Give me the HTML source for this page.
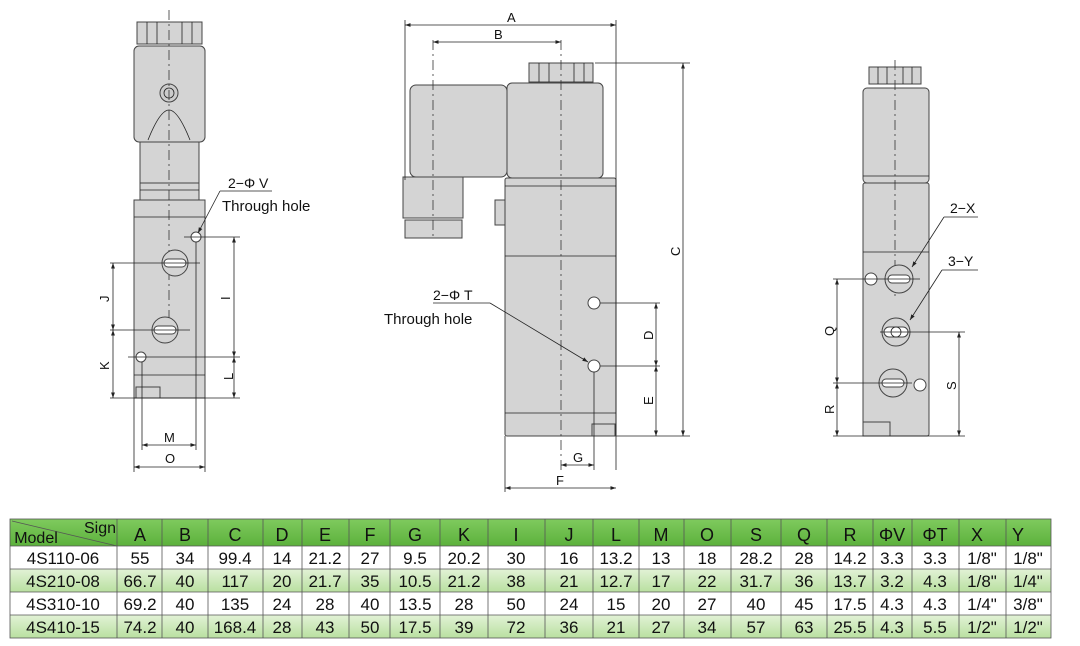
<!DOCTYPE html>
<html><head><meta charset="utf-8"><style>
html,body{margin:0;padding:0;background:#fff;width:1080px;height:646px;overflow:hidden}
svg{display:block}
text{font-family:"Liberation Sans",sans-serif;fill:#111}
.b{fill:#d4d4d4;stroke:#444;stroke-width:1}
.l{stroke:#222;stroke-width:0.8;fill:none}
.d{stroke:#333;stroke-width:0.8;stroke-dasharray:10 4 2 4;fill:none}
.h{fill:#fff;stroke:#444;stroke-width:1}
</style></head><body>
<svg width="1080" height="646" viewBox="0 0 1080 646">
<defs><marker id="a" viewBox="0 0 10 10" refX="10" refY="5" markerWidth="7" markerHeight="7" orient="auto-start-reverse"><path d="M0,1.5L10,5L0,8.5z" fill="#222"/></marker></defs>

<!-- LEFT VIEW -->
<rect class="b" x="137" y="22" width="65" height="22"/>
<g class="l"><line x1="147" y1="22" x2="147" y2="44"/><line x1="157" y1="22" x2="157" y2="44"/><line x1="182" y1="22" x2="182" y2="44"/><line x1="192" y1="22" x2="192" y2="44"/></g>
<rect class="b" x="134" y="46" width="71" height="96" rx="5"/>
<circle class="h" cx="169" cy="93" r="9" style="fill:#ccc"/><circle class="l" cx="169" cy="93" r="5"/>
<path class="l" d="M148,140 Q160,110 169,110 Q178,110 190,140"/>
<rect class="b" x="140" y="142" width="59" height="41"/>
<rect class="b" x="140" y="183" width="59" height="17"/>
<line class="l" x1="140" y1="190" x2="199" y2="190"/>
<rect class="b" x="134" y="200" width="71" height="198"/>
<line class="l" x1="134" y1="217" x2="205" y2="217"/>
<line class="l" x1="134" y1="375" x2="205" y2="375"/>
<rect class="b" x="136" y="387" width="24" height="11"/>
<line class="d" x1="169" y1="10" x2="169" y2="320"/>
<circle class="h" cx="196" cy="237" r="5"/>
<circle class="b" cx="175" cy="263" r="13"/><rect class="h" x="164" y="259" width="22" height="8" rx="4"/>
<circle class="b" cx="165" cy="330" r="13"/><rect class="h" x="154" y="326" width="22" height="8" rx="4"/>
<circle class="h" cx="141" cy="357" r="5"/>
<g class="l">
<line x1="184" y1="237" x2="240" y2="237"/><line x1="110" y1="263" x2="200" y2="263"/>
<line x1="110" y1="330" x2="190" y2="330"/><line x1="128" y1="357" x2="240" y2="357"/>
<line x1="110" y1="398" x2="240" y2="398"/>
<line x1="234" y1="237" x2="234" y2="357" marker-start="url(#a)" marker-end="url(#a)"/>
<line x1="234" y1="357" x2="234" y2="398" marker-start="url(#a)" marker-end="url(#a)"/>
<line x1="113" y1="263" x2="113" y2="330" marker-start="url(#a)" marker-end="url(#a)"/>
<line x1="113" y1="330" x2="113" y2="398" marker-start="url(#a)" marker-end="url(#a)"/>
<line x1="142" y1="362" x2="142" y2="450"/><line x1="196" y1="242" x2="196" y2="450"/>
<line x1="134" y1="398" x2="134" y2="472"/><line x1="205" y1="398" x2="205" y2="472"/>
<line x1="142" y1="445" x2="196" y2="445" marker-start="url(#a)" marker-end="url(#a)"/>
<line x1="134" y1="467" x2="205" y2="467" marker-start="url(#a)" marker-end="url(#a)"/>
<line x1="220" y1="191" x2="272" y2="191"/><line x1="220" y1="191" x2="198" y2="233" marker-end="url(#a)"/>
</g>
<text x="228" y="188" font-size="14">2−Φ V</text>
<text x="222" y="211" font-size="15">Through hole</text>
<text x="230" y="300" font-size="13" transform="rotate(-90 230 300)">I</text>
<text x="233" y="380" font-size="13" transform="rotate(-90 233 380)">L</text>
<text x="109" y="302" font-size="13" transform="rotate(-90 109 302)">J</text>
<text x="109" y="370" font-size="13" transform="rotate(-90 109 370)">K</text>
<text x="164" y="442" font-size="13">M</text>
<text x="165" y="463" font-size="13">O</text>

<!-- MIDDLE VIEW -->
<rect class="b" x="529" y="63" width="64" height="19"/>
<g class="l"><line x1="539" y1="63" x2="539" y2="82"/><line x1="549" y1="63" x2="549" y2="82"/><line x1="574" y1="63" x2="574" y2="82"/><line x1="584" y1="63" x2="584" y2="82"/></g>
<rect class="b" x="410" y="85" width="97" height="92" rx="6"/>
<rect class="b" x="507" y="83" width="96" height="95" rx="5"/>
<rect class="b" x="403" y="177" width="60" height="41"/>
<rect class="b" x="405" y="220" width="57" height="18"/>
<rect class="b" x="495" y="200" width="11" height="25"/>
<rect class="b" x="505" y="178" width="111" height="258" rx="2"/>
<line class="l" x1="505" y1="186" x2="616" y2="186"/>
<line class="l" x1="505" y1="256" x2="616" y2="256"/>
<line class="l" x1="505" y1="413" x2="616" y2="413"/>
<rect class="b" x="592" y="424" width="23" height="12"/>
<line class="d" x1="561" y1="40" x2="561" y2="470"/>
<line class="d" x1="433" y1="40" x2="433" y2="240"/>
<circle class="h" cx="594" cy="303" r="6"/><circle class="h" cx="594" cy="366" r="6"/>
<g class="l">
<line x1="405" y1="20" x2="405" y2="180"/><line x1="616" y1="20" x2="616" y2="470"/>
<line x1="405" y1="25" x2="616" y2="25" marker-start="url(#a)" marker-end="url(#a)"/>
<line x1="433" y1="42" x2="561" y2="42" marker-start="url(#a)" marker-end="url(#a)"/>
<line x1="595" y1="63" x2="690" y2="63"/><line x1="616" y1="436" x2="690" y2="436"/>
<line x1="683" y1="63" x2="683" y2="436" marker-start="url(#a)" marker-end="url(#a)"/>
<line x1="600" y1="303" x2="660" y2="303"/><line x1="600" y1="366" x2="660" y2="366"/>
<line x1="656" y1="303" x2="656" y2="366" marker-start="url(#a)" marker-end="url(#a)"/>
<line x1="656" y1="366" x2="656" y2="436" marker-start="url(#a)" marker-end="url(#a)"/>
<line x1="594" y1="372" x2="594" y2="470"/>
<line x1="505" y1="436" x2="505" y2="492"/>
<line x1="561" y1="465" x2="594" y2="465" marker-start="url(#a)" marker-end="url(#a)"/>
<line x1="505" y1="488" x2="616" y2="488" marker-start="url(#a)" marker-end="url(#a)"/>
<line x1="433" y1="303" x2="490" y2="303"/><line x1="490" y1="303" x2="588" y2="362" marker-end="url(#a)"/>
</g>
<text x="507" y="22" font-size="13">A</text>
<text x="494" y="39" font-size="13">B</text>
<text x="680" y="256" font-size="13" transform="rotate(-90 680 256)">C</text>
<text x="653" y="340" font-size="13" transform="rotate(-90 653 340)">D</text>
<text x="653" y="405" font-size="13" transform="rotate(-90 653 405)">E</text>
<text x="573" y="462" font-size="13">G</text>
<text x="556" y="485" font-size="13">F</text>
<text x="433" y="300" font-size="14">2−Φ T</text>
<text x="384" y="324" font-size="15">Through hole</text>

<!-- RIGHT VIEW -->
<rect class="b" x="869" y="67" width="52" height="17"/>
<g class="l"><line x1="878" y1="67" x2="878" y2="84"/><line x1="887" y1="67" x2="887" y2="84"/><line x1="903" y1="67" x2="903" y2="84"/><line x1="912" y1="67" x2="912" y2="84"/></g>
<rect class="b" x="863" y="88" width="66" height="95" rx="4"/>
<line class="l" x1="863" y1="176" x2="929" y2="176"/>
<rect class="b" x="863" y="183" width="66" height="253" rx="2"/>
<line class="l" x1="863" y1="252" x2="929" y2="252"/>
<rect class="b" x="863" y="422" width="27" height="14"/>
<line class="d" x1="895" y1="60" x2="895" y2="300"/>
<circle class="h" cx="871" cy="279" r="6"/>
<circle class="b" cx="899" cy="279" r="14"/><rect class="h" x="888" y="275" width="22" height="8" rx="4"/>
<circle class="b" cx="896" cy="332" r="14"/><rect class="h" x="884" y="327" width="24" height="10" rx="5"/><circle class="l" cx="896" cy="332" r="5"/>
<circle class="b" cx="893" cy="383" r="14"/><rect class="h" x="882" y="379" width="22" height="8" rx="4"/>
<circle class="h" cx="920" cy="385" r="6"/>
<g class="l">
<line x1="833" y1="279" x2="920" y2="279"/><line x1="833" y1="383" x2="912" y2="383"/>
<line x1="833" y1="436" x2="965" y2="436"/><line x1="880" y1="332" x2="965" y2="332"/>
<line x1="837" y1="279" x2="837" y2="383" marker-start="url(#a)" marker-end="url(#a)"/>
<line x1="837" y1="383" x2="837" y2="436" marker-start="url(#a)" marker-end="url(#a)"/>
<line x1="959" y1="332" x2="959" y2="436" marker-start="url(#a)" marker-end="url(#a)"/>
<line x1="944" y1="217" x2="978" y2="217"/><line x1="944" y1="217" x2="912" y2="267" marker-end="url(#a)"/>
<line x1="942" y1="270" x2="978" y2="270"/><line x1="942" y1="270" x2="910" y2="320" marker-end="url(#a)"/>
</g>
<text x="950" y="213" font-size="14">2−X</text>
<text x="948" y="266" font-size="14">3−Y</text>
<text x="834" y="336" font-size="13" transform="rotate(-90 834 336)">Q</text>
<text x="834" y="414" font-size="13" transform="rotate(-90 834 414)">R</text>
<text x="956" y="390" font-size="13" transform="rotate(-90 956 390)">S</text>

<!-- TABLE -->
<defs><linearGradient id="g" x1="0" x2="0" y1="0" y2="1"><stop offset="0" stop-color="#e2f2d6"/><stop offset="1" stop-color="#b9e0a0"/></linearGradient>
<linearGradient id="hg" x1="0" x2="0" y1="0" y2="1"><stop offset="0" stop-color="#7fca5e"/><stop offset="1" stop-color="#5cb13c"/></linearGradient></defs>
<rect x="10" y="519" width="1041" height="27" fill="url(#hg)"/>
<rect x="10" y="546" width="1041" height="23" fill="#fff"/>
<rect x="10" y="569" width="1041" height="23" fill="url(#g)"/>
<rect x="10" y="592" width="1041" height="23" fill="#fff"/>
<rect x="10" y="615" width="1041" height="23" fill="url(#g)"/>
<g stroke="#555" stroke-width="0.8">
<rect x="10" y="519" width="1041" height="119" fill="none"/>
<line x1="10" y1="546" x2="1051" y2="546"/><line x1="10" y1="569" x2="1051" y2="569"/><line x1="10" y1="592" x2="1051" y2="592"/><line x1="10" y1="615" x2="1051" y2="615"/>
<line x1="117" y1="519" x2="117" y2="638"/><line x1="162" y1="519" x2="162" y2="638"/><line x1="208" y1="519" x2="208" y2="638"/><line x1="263" y1="519" x2="263" y2="638"/><line x1="302" y1="519" x2="302" y2="638"/><line x1="349" y1="519" x2="349" y2="638"/><line x1="390" y1="519" x2="390" y2="638"/><line x1="440" y1="519" x2="440" y2="638"/><line x1="488" y1="519" x2="488" y2="638"/><line x1="545" y1="519" x2="545" y2="638"/><line x1="593" y1="519" x2="593" y2="638"/><line x1="639" y1="519" x2="639" y2="638"/><line x1="684" y1="519" x2="684" y2="638"/><line x1="731" y1="519" x2="731" y2="638"/><line x1="781" y1="519" x2="781" y2="638"/><line x1="827" y1="519" x2="827" y2="638"/><line x1="873" y1="519" x2="873" y2="638"/><line x1="912" y1="519" x2="912" y2="638"/><line x1="959" y1="519" x2="959" y2="638"/><line x1="1006" y1="519" x2="1006" y2="638"/>
<line x1="12" y1="521" x2="117" y2="546"/>
</g>
<g font-size="18" text-anchor="middle">
<text x="36" y="543" font-size="16">Model</text><text x="100" y="533" font-size="16">Sign</text>
<text x="140" y="541">A</text><text x="185" y="541">B</text><text x="235" y="541">C</text><text x="282" y="541">D</text><text x="325" y="541">E</text><text x="370" y="541">F</text><text x="415" y="541">G</text><text x="464" y="541">K</text><text x="516" y="541">I</text><text x="569" y="541">J</text><text x="616" y="541">L</text><text x="661" y="541">M</text><text x="707" y="541">O</text><text x="756" y="541">S</text><text x="804" y="541">Q</text><text x="850" y="541">R</text><text x="892" y="541">ΦV</text><text x="935" y="541">ΦT</text><text x="977" y="541">X</text><text x="1018" y="541">Y</text>
</g>
<g font-size="17" text-anchor="middle">
<text x="63" y="564">4S110-06</text><text x="140" y="564">55</text><text x="185" y="564">34</text><text x="235" y="564">99.4</text><text x="282" y="564">14</text><text x="325" y="564">21.2</text><text x="370" y="564">27</text><text x="415" y="564">9.5</text><text x="464" y="564">20.2</text><text x="516" y="564">30</text><text x="569" y="564">16</text><text x="616" y="564">13.2</text><text x="661" y="564">13</text><text x="707" y="564">18</text><text x="756" y="564">28.2</text><text x="804" y="564">28</text><text x="850" y="564">14.2</text><text x="892" y="564">3.3</text><text x="935" y="564">3.3</text><text x="982" y="564">1/8"</text><text x="1028" y="564">1/8"</text>
<text x="63" y="587">4S210-08</text><text x="140" y="587">66.7</text><text x="185" y="587">40</text><text x="235" y="587">117</text><text x="282" y="587">20</text><text x="325" y="587">21.7</text><text x="370" y="587">35</text><text x="415" y="587">10.5</text><text x="464" y="587">21.2</text><text x="516" y="587">38</text><text x="569" y="587">21</text><text x="616" y="587">12.7</text><text x="661" y="587">17</text><text x="707" y="587">22</text><text x="756" y="587">31.7</text><text x="804" y="587">36</text><text x="850" y="587">13.7</text><text x="892" y="587">3.2</text><text x="935" y="587">4.3</text><text x="982" y="587">1/8"</text><text x="1028" y="587">1/4"</text>
<text x="63" y="610">4S310-10</text><text x="140" y="610">69.2</text><text x="185" y="610">40</text><text x="235" y="610">135</text><text x="282" y="610">24</text><text x="325" y="610">28</text><text x="370" y="610">40</text><text x="415" y="610">13.5</text><text x="464" y="610">28</text><text x="516" y="610">50</text><text x="569" y="610">24</text><text x="616" y="610">15</text><text x="661" y="610">20</text><text x="707" y="610">27</text><text x="756" y="610">40</text><text x="804" y="610">45</text><text x="850" y="610">17.5</text><text x="892" y="610">4.3</text><text x="935" y="610">4.3</text><text x="982" y="610">1/4"</text><text x="1028" y="610">3/8"</text>
<text x="63" y="633">4S410-15</text><text x="140" y="633">74.2</text><text x="185" y="633">40</text><text x="235" y="633">168.4</text><text x="282" y="633">28</text><text x="325" y="633">43</text><text x="370" y="633">50</text><text x="415" y="633">17.5</text><text x="464" y="633">39</text><text x="516" y="633">72</text><text x="569" y="633">36</text><text x="616" y="633">21</text><text x="661" y="633">27</text><text x="707" y="633">34</text><text x="756" y="633">57</text><text x="804" y="633">63</text><text x="850" y="633">25.5</text><text x="892" y="633">4.3</text><text x="935" y="633">5.5</text><text x="982" y="633">1/2"</text><text x="1028" y="633">1/2"</text>
</g>
</svg>
</body></html>
